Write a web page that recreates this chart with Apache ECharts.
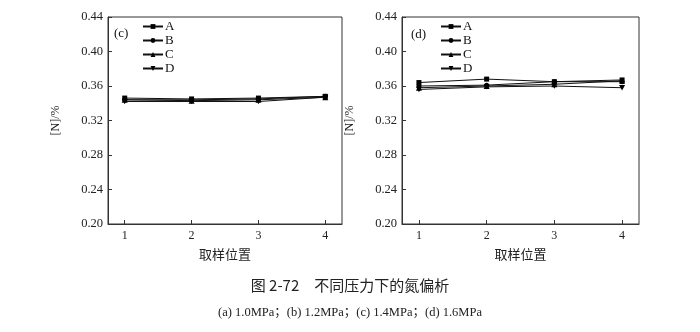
<!DOCTYPE html>
<html>
<head>
<meta charset="utf-8">
<script src="https://cdn.jsdelivr.net/npm/echarts@6/dist/echarts.min.js"></script>
<style>
  html, body { margin: 0; padding: 0; background: #fff; }
  #chart { width: 700px; height: 332px; }
</style>
</head>
<body>
<div id="chart"></div>
<script>
// Sampling positions and nitrogen content [N]/% for each pressure panel
const positions = [1, 2, 3, 4];
const seriesNames = ['A', 'B', 'C', 'D'];
const yTicks = [0.20, 0.24, 0.28, 0.32, 0.36, 0.40, 0.44];

// Panel (c): 1.4 MPa
const panelC = {
  A: [0.346, 0.345, 0.346, 0.348],
  B: [0.344, 0.344, 0.345, 0.348],
  C: [0.344, 0.343, 0.344, 0.347],
  D: [0.342, 0.342, 0.342, 0.347]
};
// Panel (d): 1.6 MPa
const panelD = {
  A: [0.364, 0.368, 0.365, 0.367],
  B: [0.360, 0.361, 0.365, 0.365],
  C: [0.358, 0.360, 0.362, 0.366],
  D: [0.356, 0.359, 0.360, 0.358]
};

const symbols = { A: 'rect', B: 'circle', C: 'triangle', D: 'path://M0,0 L10,0 L5,9 Z' };
const symbolSizes = { A: 5, B: 5, C: 6, D: 6 };

const serif = '"Liberation Serif", "Times New Roman", serif';
const cjk = '"Noto Sans CJK SC", sans-serif';
const axisColor = '#333';

function makeXAxis(idx) {
  return {
    type: 'value', gridIndex: idx, min: 0.75, max: 4.25,
    name: '取样位置', nameLocation: 'middle', nameGap: 24,
    nameTextStyle: { fontFamily: cjk, fontSize: 13, color: '#222' },
    axisLine: { lineStyle: { color: axisColor, width: 1 } },
    axisTick: { inside: true, length: 4, customValues: positions, lineStyle: { color: axisColor } },
    axisLabel: { customValues: positions, fontFamily: serif, fontSize: 12, color: '#222', margin: 6 },
    splitLine: { show: false }
  };
}
function makeYAxis(idx) {
  return {
    type: 'value', gridIndex: idx, min: 0.20, max: 0.44,
    name: '[N]/%', nameLocation: 'middle', nameGap: 46, nameRotate: 90,
    nameTextStyle: { fontFamily: serif, fontSize: 12, color: '#222' },
    axisLine: { show: true, lineStyle: { color: axisColor, width: 1 } },
    axisTick: { inside: true, length: 4, customValues: yTicks, lineStyle: { color: axisColor } },
    axisLabel: {
      customValues: yTicks, fontFamily: serif, fontSize: 12.5, color: '#222', margin: 5,
      formatter: v => v.toFixed(2)
    },
    splitLine: { show: false }
  };
}
function makeSeries(panel, idx) {
  return seriesNames.map(n => ({
    name: n, type: 'line', xAxisIndex: idx, yAxisIndex: idx,
    data: positions.map((p, i) => [p, panel[n][i]]),
    symbol: symbols[n], symbolSize: symbolSizes[n], symbolKeepAspect: true,
    itemStyle: { color: '#000' },
    lineStyle: { color: '#111', width: 1 },
    emphasis: { disabled: true },
    animation: false
  }));
}
function makeLegend(left) {
  return {
    orient: 'vertical', left: left, top: 20, itemGap: 1, padding: 0,
    itemWidth: 20, itemHeight: 6, data: seriesNames,
    textStyle: { fontFamily: serif, fontSize: 13, lineHeight: 10, color: '#111', padding: [0, 0, 0, -3] },
    selectedMode: false
  };
}

const chart = echarts.init(document.getElementById('chart'), null, { renderer: 'canvas' });
chart.setOption({
  backgroundColor: '#fff',
  animation: false,
  grid: [
    { left: 108, top: 17, width: 234, height: 207, show: true, borderColor: axisColor, borderWidth: 1, backgroundColor: 'transparent' },
    { left: 402, top: 17, width: 237, height: 207, show: true, borderColor: axisColor, borderWidth: 1, backgroundColor: 'transparent' }
  ],
  xAxis: [makeXAxis(0), makeXAxis(1)],
  yAxis: [makeYAxis(0), makeYAxis(1)],
  legend: [makeLegend(142), makeLegend(440)],
  title: [
    { text: '(c)', left: 109, top: 22, textStyle: { fontFamily: serif, fontSize: 13, fontWeight: 'normal', color: '#111' } },
    { text: '(d)', left: 406, top: 23, textStyle: { fontFamily: serif, fontSize: 13, fontWeight: 'normal', color: '#111' } },
    { text: '图 2-72　不同压力下的氮偏析', left: 'center', top: 273,
      textStyle: { fontFamily: cjk, fontSize: 15, fontWeight: 'normal', color: '#222' } },
    { text: '(a) 1.0MPa；(b) 1.2MPa；(c) 1.4MPa；(d) 1.6MPa', left: 'center', top: 301,
      textStyle: { fontFamily: serif + ', ' + cjk, fontSize: 12.5, fontWeight: 'normal', color: '#222' } }
  ],
  series: [...makeSeries(panelC, 0), ...makeSeries(panelD, 1)]
});
</script>
</body>
</html>
